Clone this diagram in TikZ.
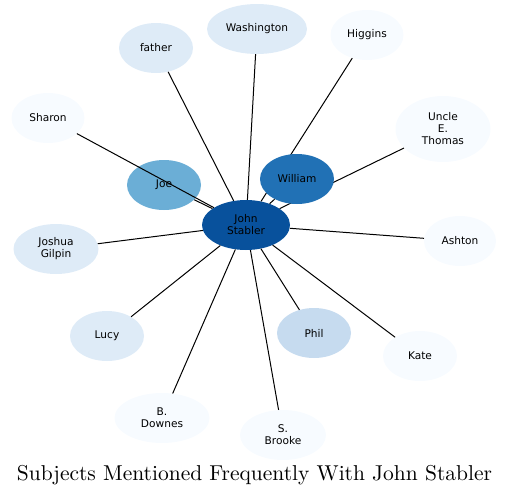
\documentclass[tikz,border=0pt]{standalone}
\usepackage{fontspec}
\usepackage{graphicx}
\newfontfamily\lblfont{DejaVu Sans}
\usetikzlibrary{shapes.geometric}
\definecolor{c0}{HTML}{F7FBFF}
\definecolor{c1}{HTML}{DEEBF7}
\definecolor{c2}{HTML}{C6DBEF}
\definecolor{c3}{HTML}{6BAED6}
\definecolor{c4}{HTML}{2171B5}
\definecolor{c5}{HTML}{08519C}
\tikzset{
  ent/.style={ellipse, draw=none, inner sep=0pt, minimum width=74pt, minimum height=50pt,
    align=center, font=\lblfont\fontsize{10.6}{12}\selectfont, text=black},
  link/.style={draw=black, line width=1pt},
}
\begin{document}
\begin{tikzpicture}[x=1pt,y=-1pt]
\useasboundingbox (0,0) rectangle (509,496);
% nodes beneath edges
\node[ent, fill=c3] (joe) at (164,185) {Joe};
\node[ent, fill=c1] (father) at (156,48) {father};
\node[ent, fill=c1, minimum width=100pt] (wash) at (257,29) {Washington};
\node[ent, fill=c0, minimum width=73pt] (higgins) at (367,35) {Higgins};
\node[ent, fill=c0, minimum width=95pt, minimum height=66pt] (thomas) at (443,129) {Uncle\\E.\\Thomas};
\node[ent, fill=c0, minimum width=73pt] (sharon) at (48,118) {Sharon};
\node[ent, fill=c1, minimum width=85pt] (joshua) at (56,249) {Joshua\\Gilpin};
\node[ent, fill=c0, minimum width=72pt] (ashton) at (460,241) {Ashton};
\node[ent, fill=c1] (lucy) at (107,336) {Lucy};
\node[ent, fill=c2] (phil) at (314,333) {Phil};
\node[ent, fill=c0] (kate) at (420,356) {Kate};
\node[ent, fill=c0, minimum width=95pt] (downes) at (162,418) {B.\\Downes};
\node[ent, fill=c0, minimum width=86pt] (brooke) at (283,435) {S.\\Brooke};
\node[ent, fill=c5, minimum width=88pt] (john) at (246,225) {John\\Stabler};
% edges
\foreach \n in {joe,father,wash,higgins,thomas,sharon,joshua,ashton,lucy,phil,kate,downes,brooke}
  \draw[link] (\n) -- (john);
\node[ent, fill=c4] (william) at (297,179) {William};
\draw[link] (william) -- (john);
\node[inner sep=0pt] (title) at (254.5,475) {\resizebox{475pt}{!}{Subjects Mentioned Frequently With John Stabler}};
\end{tikzpicture}
\end{document}
